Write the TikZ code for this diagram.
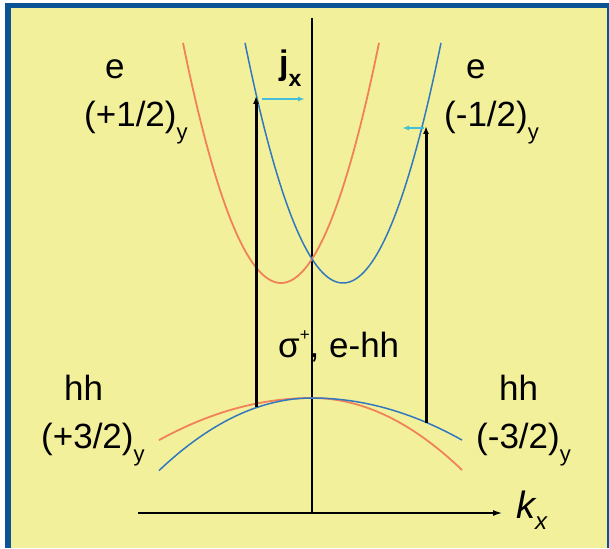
\documentclass[tikz,border=0pt]{standalone}
\usepackage{fontspec}
\setmainfont{Liberation Sans}
\usetikzlibrary{arrows.meta}
\definecolor{bgyellow}{RGB}{243,240,155}
\definecolor{frameblue}{RGB}{10,84,150}
\definecolor{bandorange}{RGB}{240,130,90}
\definecolor{bandblue}{RGB}{50,120,190}
\definecolor{spincyan}{RGB}{70,190,215}
\tikzset{
  lbl/.style={inner sep=0pt, anchor=base west, font=\fontsize{35}{40}\selectfont},
  axisline/.style={line width=1.3pt, black},
  bandO/.style={line width=1.8pt, bandorange},
  bandB/.style={line width=1.5pt, bandblue},
  transition/.style={line width=3pt, black, -{Latex[length=8pt,width=6pt]}},
  current/.style={line width=2pt, spincyan, -{Latex[length=7pt,width=5pt]}}
}
\newcommand{\subY}[1]{\raisebox{-13pt}{\fontsize{22}{22}\selectfont #1}}
\begin{document}
\begin{tikzpicture}[x=1pt,y=-1pt]
\useasboundingbox (0,0) rectangle (609,548);
\fill[white] (0,0) rectangle (609,548);
\fill[frameblue] (5,3) rectangle (609,548);
\fill[bgyellow] (11,8) rectangle (607,548);

% axes
\coordinate (vtop) at (312,18);
\coordinate (vbot) at (312,513);
\coordinate (hleft) at (138,513);
\coordinate (hright) at (502,513);
\draw[axisline] (vtop) -- (vbot);
\draw[axisline, -{Latex[length=9pt,width=6pt]}] (hleft) -- (hright);

% conduction bands
\draw[bandO] plot[domain=183:379, samples=80] (\x, {283-2.5*((\x-281)/10)^2});
\draw[bandB] plot[domain=245:441, samples=80] (\x, {283-2.5*((\x-343)/10)^2});

% heavy-hole bands
\draw[bandO] plot[domain=159:462, samples=80] (\x, {398+0.18*(min(\x-312,0)/10)^2+0.32*(max(\x-312,0)/10)^2});
\draw[bandB] plot[domain=159:462, samples=80] (\x, {398+0.31*(min(\x-312,0)/10)^2+0.187*(max(\x-312,0)/10)^2});

% optical transitions
\coordinate (hhL) at (256,407);
\coordinate (eL) at (256,96);
\coordinate (hhR) at (426,423);
\coordinate (eR) at (426,126);
\draw[transition] (hhL) -- (eL);
\draw[transition] (hhR) -- (eR);

% spin currents
\coordinate (jLs) at (262,99);
\coordinate (jLe) at (305,99);
\coordinate (jRs) at (424,128);
\coordinate (jRe) at (402,128);
\draw[current] (jLs) -- (jLe);
\draw[current] (jRs) -- (jRe);

% labels
\node[lbl] (eLt) at (105,79) {e};
\node[lbl] (eLs) at (84,127) {(+1/2)\subY{y}};
\node[lbl] (eRt) at (466,79) {e};
\node[lbl] (eRs) at (444,127) {(-1/2)\subY{y}};
\node[lbl] (hhLt) at (64,400) {hh};
\node[lbl] (hhLs) at (41,448) {(+3/2)\subY{y}};
\node[lbl] (hhRt) at (499,400) {hh};
\node[lbl] (hhRs) at (476,448) {(-3/2)\subY{y}};
\node[lbl] (sig) at (278,357) {σ\raisebox{17pt}{\fontsize{17}{17}\selectfont +}, e-hh};
\node[lbl, font=\fontsize{34}{38}\selectfont\bfseries] (jx) at (279,75) {j\raisebox{-12pt}{\fontsize{23}{23}\selectfont x}};
\node[lbl, font=\fontsize{38}{42}\selectfont\itshape] (kx) at (516,518) {k\raisebox{-11pt}{\fontsize{24}{24}\selectfont x}};
\end{tikzpicture}
\end{document}
